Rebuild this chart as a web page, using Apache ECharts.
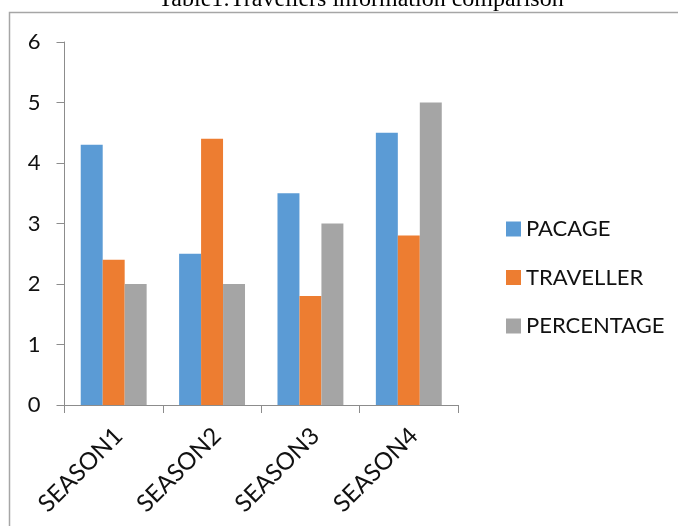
<!DOCTYPE html>
<html>
<head>
<meta charset="utf-8">
<script src="https://cdn.jsdelivr.net/npm/echarts@6/dist/echarts.min.js"></script>
<style>html,body{margin:0;padding:0;background:#fff;}#c{width:678px;height:526px;}</style>
</head>
<body>
<div id="c"></div>
<script>
const titleText = 'Table1:Travellers information comparison';
const categories = ['SEASON1', 'SEASON2', 'SEASON3', 'SEASON4'];
const seriesNames = ['PACAGE', 'TRAVELLER', 'PERCENTAGE'];
const pacage = [4.3, 2.5, 3.5, 4.5];
const traveller = [2.4, 4.4, 1.8, 2.8];
const percentage = [2.0, 2.0, 3.0, 5.0];
const yTicks = [0, 1, 2, 3, 4, 5, 6];

const colors = ['#5B9BD5', '#ED7D31', '#A5A5A5'];
const font = 'Lato';
const chart = echarts.init(document.getElementById('c'), null, {renderer: 'canvas'});
const values = [pacage, traveller, percentage];
chart.setOption({
  animation: false,
  backgroundColor: '#fff',
  color: colors,
  graphic: [
    {type: 'polyline', shape: {points: [[9.5, 526], [9.5, 12.5], [678, 12.5]]},
     style: {stroke: '#a6a6a6', lineWidth: 1.5, fill: null}},
    {type: 'text', x: 361, y: 12, style: {text: titleText, font: '24px "Liberation Serif"',
     fill: '#000', align: 'center', verticalAlign: 'bottom'}}
  ],
  grid: {left: 64.5, right: 220, top: 42, bottom: 121, containLabel: false},
  legend: {
    orient: 'vertical', left: 501, top: 213, itemWidth: 15, itemHeight: 15, itemGap: 26.5,
    icon: 'rect', data: seriesNames,
    textStyle: {fontFamily: font, fontSize: 22, color: '#111'}
  },
  xAxis: {
    type: 'category', data: categories, boundaryGap: true,
    axisLine: {lineStyle: {color: '#8c8c8c', width: 1}},
    axisTick: {show: true, length: 8, alignWithLabel: false, lineStyle: {color: '#8c8c8c'}},
    axisLabel: {rotate: 45, margin: 22, verticalAlign: 'top', lineHeight: 14,
      fontFamily: font, fontSize: 24, color: '#111', interval: 0}
  },
  yAxis: {
    type: 'value', min: yTicks[0], max: yTicks[yTicks.length - 1], interval: 1,
    axisLine: {show: true, lineStyle: {color: '#8c8c8c', width: 1}},
    axisTick: {show: true, length: 8, lineStyle: {color: '#8c8c8c'}},
    splitLine: {show: false},
    axisLabel: {margin: 24, fontFamily: font, fontSize: 22, color: '#111'}
  },
  series: seriesNames.map((n, i) => ({
    name: n, type: 'bar', data: values[i], barGap: '0%', barCategoryGap: '33%',
    itemStyle: {color: colors[i]}
  }))
});
</script>
</body>
</html>
